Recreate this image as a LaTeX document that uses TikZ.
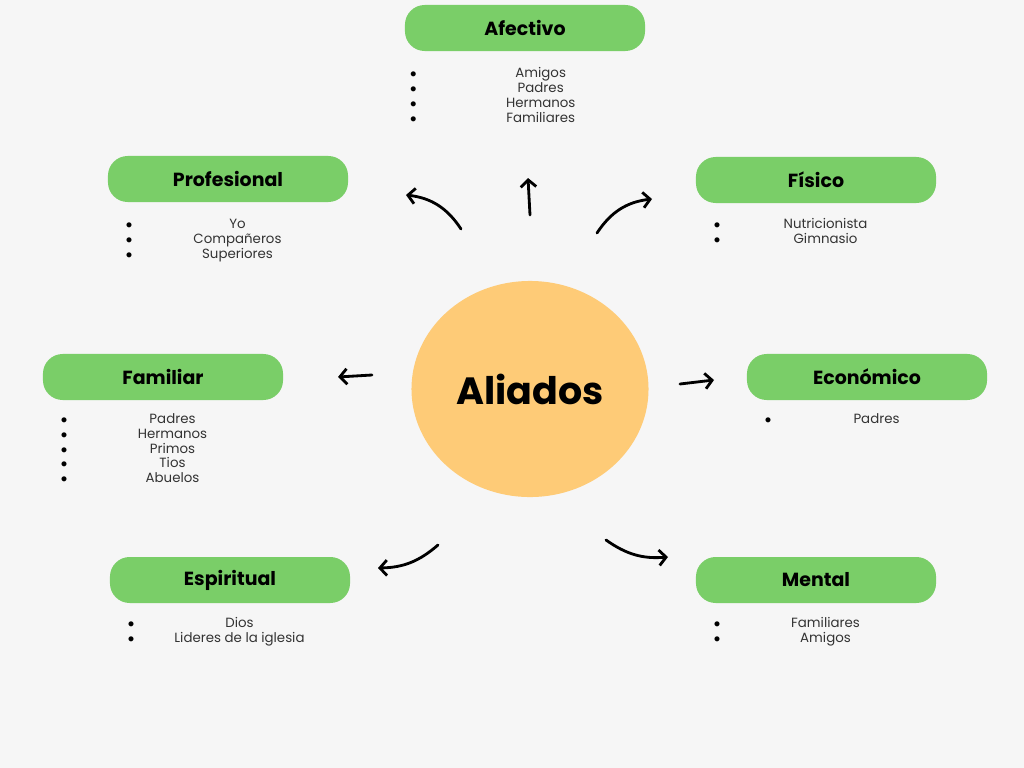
\documentclass[tikz,border=0pt]{standalone}
\usepackage{fontspec}
\setmainfont{Poppins}
\usetikzlibrary{positioning,arrows.meta,shapes.geometric}

\definecolor{bgGray}{HTML}{F6F6F6}
\definecolor{leafGreen}{HTML}{7ACE68}
\definecolor{blobOrange}{HTML}{FECB77}
\definecolor{listGray}{HTML}{333333}

% one bullet line: bullet, then the text centred in a box of given width
\newcommand{\listrow}[2][5.25cm]{\textcolor{black}{$\bullet$}\makebox[#1][c]{#2}}

\begin{document}
\begin{tikzpicture}[x=0.025cm,y=-0.025cm,
    category/.style={fill=leafGreen, rounded corners=14pt, minimum width=6cm,
        minimum height=1.15cm, inner sep=0pt, font=\fontsize{13.5}{15}\selectfont\bfseries},
    itemlist/.style={inner sep=0pt, align=left, text=listGray,
        font=\fontsize{9.5}{10.6}\selectfont},
    blob/.style={ellipse, fill=blobOrange, minimum width=5.925cm, minimum height=5.4cm,
        font=\fontsize{27}{30}\selectfont\bfseries},
    pointer/.style={line width=2pt, line cap=round,
        -{Straight Barb[length=5pt,width=11pt]}}
]
    \fill[bgGray] (0,0) rectangle (1024,768);
    \useasboundingbox (0,0) rectangle (1024,768);

    % centre
    \node[blob]     (aliados)  at (530,389) {Aliados};

    % categories
    \node[category] (afectivo) at (525,28)  {Afectivo};
    \node[category] (prof)     at (228,179) {Profesional};
    \node[category] (fisico)   at (816,180) {Físico};
    \node[category] (familiar) at (163,377) {Familiar};
    \node[category] (econ)     at (867,377) {Económico};
    \node[category] (espi)     at (230,580) {Espiritual};
    \node[category] (mental)   at (816,580) {Mental};

    % lists
    \node[itemlist, below right=0.4cm and 0.13cm of afectivo.south west] (afectivoList)
        {\listrow[6.2cm]{Amigos}\\ \listrow[6.2cm]{Padres}\\ \listrow[6.2cm]{Hermanos}\\ \listrow[6.2cm]{Familiares}};
    \node[itemlist, below right=0.42cm and 0.45cm of prof.south west] (profList)
        {\listrow{Yo}\\ \listrow{Compañeros}\\ \listrow{Superiores}};
    \node[itemlist, below right=0.38cm and 0.45cm of fisico.south west] (fisicoList)
        {\listrow{Nutricionista}\\ \listrow{Gimnasio}};
    \node[itemlist, below right=0.32cm and 0.45cm of familiar.south west] (familiarList)
        {\listrow{Padres}\\ \listrow{Hermanos}\\ \listrow{Primos}\\ \listrow{Tios}\\ \listrow{Abuelos}};
    \node[itemlist, below right=0.32cm and 0.45cm of econ.south west] (econList)
        {\listrow{Padres}};
    \node[itemlist, below right=0.35cm and 0.45cm of espi.south west] (espiList)
        {\listrow{Dios}\\ \listrow{Lideres de la iglesia}};
    \node[itemlist, below right=0.35cm and 0.45cm of mental.south west] (mentalList)
        {\listrow{Familiares}\\ \listrow{Amigos}};

    % arrow ends
    \coordinate (afectivoTail) at (530,215);  \coordinate (afectivoTip) at (528,178);
    \coordinate (profTail)     at (461,229);  \coordinate (profTip)     at (406,195);
    \coordinate (fisicoTail)   at (597,233);  \coordinate (fisicoTip)   at (652,199);
    \coordinate (familiarTail) at (372,375);  \coordinate (familiarTip) at (338,377);
    \coordinate (econTail)     at (680,384);  \coordinate (econTip)     at (714,380);
    \coordinate (espiTail)     at (438,545);  \coordinate (espiTip)     at (378,568);
    \coordinate (mentalTail)   at (606,540);  \coordinate (mentalTip)   at (668,557);

    \draw[pointer] (afectivoTail) -- (afectivoTip);
    \draw[pointer] (profTail)     to[bend right=25] (profTip);
    \draw[pointer] (fisicoTail)   to[bend left=25]  (fisicoTip);
    \draw[pointer] (familiarTail) -- (familiarTip);
    \draw[pointer] (econTail)     -- (econTip);
    \draw[pointer] (espiTail)     to[bend left=20]  (espiTip);
    \draw[pointer] (mentalTail)   to[bend right=20] (mentalTip);
\end{tikzpicture}
\end{document}
